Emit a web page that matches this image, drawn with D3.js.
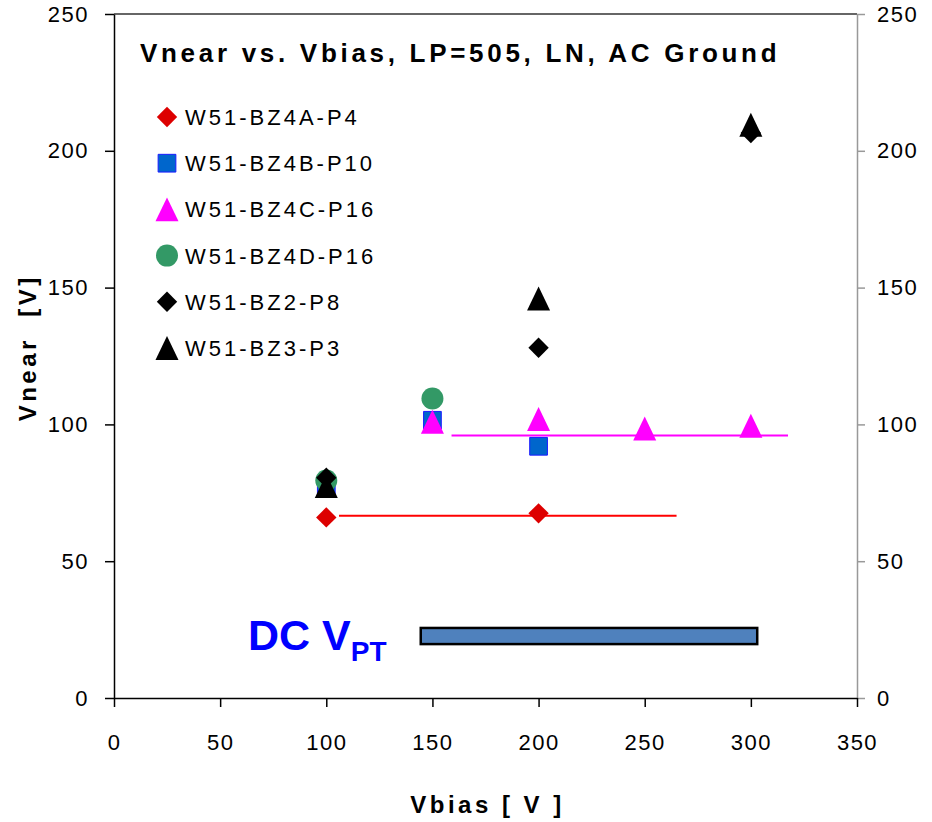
<!DOCTYPE html>
<html>
<head>
<meta charset="utf-8">
<script src="https://d3js.org/d3.v7.min.js"></script>
<style>
  body { margin: 0; background: #fff; }
  text { font-family: "Liberation Sans", Arial, sans-serif; }
</style>
</head>
<body>
<svg id="chart" width="932" height="822"></svg>
<script>
// data
const xTicks = [0, 50, 100, 150, 200, 250, 300, 350];
const yTicks = [0, 50, 100, 150, 200, 250];

const seriesNames = ['W51-BZ4A-P4', 'W51-BZ4B-P10', 'W51-BZ4C-P16', 'W51-BZ4D-P16', 'W51-BZ2-P8', 'W51-BZ3-P3'];
const bz4aX = [100, 200];
const bz4aY = [66, 67.5];
const bz4bX = [100, 150, 200];
const bz4bY = [77, 101.5, 92];
const bz4cX = [150, 200, 250, 300];
const bz4cY = [101, 102, 98.5, 99.5];
const bz4dX = [100, 150];
const bz4dY = [79.5, 109.5];
const bz2X = [100, 200, 300];
const bz2Y = [80.5, 128, 206.5];
const bz3X = [100, 200, 300];
const bz3Y = [77.5, 146, 209.5];

// horizontal reference lines [x1, x2, y]
const redLine = [106, 265, 66.6];
const magentaLine = [159, 317.5, 95.9];
// DC V_PT band [x1, x2, y1, y2]
const dcBand = [144.5, 303, 19.7, 25.6];

const svg = d3.select('#chart');
const margins = {top: 14, right: 75, bottom: 124, left: 114};
const width = +svg.attr('width');
const height = +svg.attr('height');
const chartWidth = width - margins.left - margins.right;
const chartHeight = height - margins.top - margins.bottom;

const xScale = d3.scaleLinear().domain([0, 350]).range([margins.left, margins.left + chartWidth]);
const yScale = d3.scaleLinear().domain([0, 250]).range([margins.top + chartHeight, margins.top]);

// top border
svg.append('line')
  .attr('x1', xScale(0)).attr('x2', xScale(350))
  .attr('y1', yScale(250)).attr('y2', yScale(250))
  .attr('stroke', '#333').attr('stroke-width', 1.5);

// right axis (grey)
let rightAxis = d3.axisRight(yScale).tickValues(yTicks).tickSize(8).tickPadding(12).tickSizeOuter(0);
let rg = svg.append('g')
  .attr('transform', `translate(${xScale(350)},0)`)
  .call(rightAxis);
rg.selectAll('path, line').attr('stroke', '#999').attr('stroke-width', 1.5);
rg.selectAll('text').attr('font-size', 22).attr('letter-spacing', 1.5)
  .attr('font-family', '"Liberation Sans", Arial, sans-serif').attr('fill', '#000');

// left axis
let leftAxis = d3.axisLeft(yScale).tickValues(yTicks).tickSize(9).tickPadding(16).tickSizeOuter(0);
let lg = svg.append('g')
  .attr('transform', `translate(${xScale(0)},0)`)
  .call(leftAxis);
lg.selectAll('path, line').attr('stroke', '#000').attr('stroke-width', 1.5);
lg.selectAll('text').attr('font-size', 22).attr('letter-spacing', 1.5)
  .attr('font-family', '"Liberation Sans", Arial, sans-serif').attr('fill', '#000');

// bottom axis
let bottomAxis = d3.axisBottom(xScale).tickValues(xTicks).tickSize(9).tickSizeOuter(0);
let bg = svg.append('g')
  .attr('transform', `translate(0,${yScale(0)})`)
  .call(bottomAxis);
bg.selectAll('path, line').attr('stroke', '#000').attr('stroke-width', 1.5);
bg.selectAll('text').attr('font-size', 22).attr('letter-spacing', 1.5)
  .attr('font-family', '"Liberation Sans", Arial, sans-serif').attr('fill', '#000')
  .attr('y', 52).attr('dy', 0);

// axis titles
svg.append('text')
  .attr('x', xScale(175) + 2).attr('y', 813)
  .attr('text-anchor', 'middle')
  .attr('font-size', 24).attr('font-weight', 'bold').attr('letter-spacing', 3.5)
  .text('Vbias [ V ]');

svg.append('text')
  .attr('transform', `translate(36,${yScale(128)}) rotate(-90)`)
  .attr('text-anchor', 'middle')
  .attr('font-size', 24).attr('font-weight', 'bold').attr('letter-spacing', 3.5)
  .attr('xml:space', 'preserve')
  .text('Vnear  [V]');

// chart title
svg.append('text')
  .attr('x', 140).attr('y', 62)
  .attr('font-size', 26).attr('font-weight', 'bold').attr('letter-spacing', 3.7)
  .text('Vnear vs. Vbias, LP=505, LN, AC Ground');

// DC V_PT band
svg.append('rect')
  .attr('x', xScale(dcBand[0]))
  .attr('y', yScale(dcBand[3]))
  .attr('width', xScale(dcBand[1]) - xScale(dcBand[0]))
  .attr('height', yScale(dcBand[2]) - yScale(dcBand[3]))
  .attr('fill', '#4F81BD').attr('stroke', '#000').attr('stroke-width', 2.5);

let dc = svg.append('text')
  .attr('x', 248).attr('y', 650)
  .attr('fill', '#0000FF').attr('font-weight', 'bold').attr('font-size', 43);
dc.append('tspan').text('DC V');
dc.append('tspan').attr('font-size', 28).attr('dy', 11).text('PT');

// reference lines
[[redLine, '#FF0000'], [magentaLine, '#FF00FF']].forEach(([l, c]) => {
  svg.append('line')
    .attr('x1', xScale(l[0])).attr('x2', xScale(l[1]))
    .attr('y1', yScale(l[2])).attr('y2', yScale(l[2]))
    .attr('stroke', c).attr('stroke-width', 2);
});

// markers
const tallTriangle = {
  draw(context, size) {
    const w = Math.sqrt(size) * 0.5, h = Math.sqrt(size) * 0.52;
    context.moveTo(0, -h);
    context.lineTo(w, h);
    context.lineTo(-w, h);
    context.closePath();
  }
};
const diamond = d3.symbol().type(d3.symbolDiamond2).size(265);
const square = d3.symbol().type(d3.symbolSquare2).size(400);
const triangle = d3.symbol().type(tallTriangle).size(530);
const circle = d3.symbol().type(d3.symbolCircle).size(380);

const series = [
  {name: seriesNames[0], xs: bz4aX, ys: bz4aY, sym: diamond, fill: '#DD0000', stroke: 'none'},
  {name: seriesNames[1], xs: bz4bX, ys: bz4bY, sym: square, fill: '#0066CC', stroke: '#1a1aff'},
  {name: seriesNames[2], xs: bz4cX, ys: bz4cY, sym: triangle, fill: '#FF00FF', stroke: 'none'},
  {name: seriesNames[3], xs: bz4dX, ys: bz4dY, sym: circle, fill: '#339966', stroke: 'none'},
  {name: seriesNames[4], xs: bz2X, ys: bz2Y, sym: diamond, fill: '#000000', stroke: 'none'},
  {name: seriesNames[5], xs: bz3X, ys: bz3Y, sym: triangle, fill: '#000000', stroke: 'none'}
];

function drawMarker(g, s, cx, cy) {
  g.append('path')
    .attr('d', s.sym())
    .attr('transform', `translate(${cx},${cy})`)
    .attr('fill', s.fill)
    .attr('stroke', s.stroke)
    .attr('stroke-width', 1);
}

let plot = svg.append('g');
series.forEach(s => {
  s.xs.forEach((x, i) => drawMarker(plot, s, xScale(x), yScale(s.ys[i])));
});

// legend
let legend = svg.append('g');
series.forEach((s, i) => {
  let y = 117 + i * 46.2;
  drawMarker(legend, s, 167, y);
  legend.append('text')
    .attr('x', 185).attr('y', y + 8)
    .attr('font-size', 22).attr('letter-spacing', 3)
    .text(s.name);
});
</script>
</body>
</html>
